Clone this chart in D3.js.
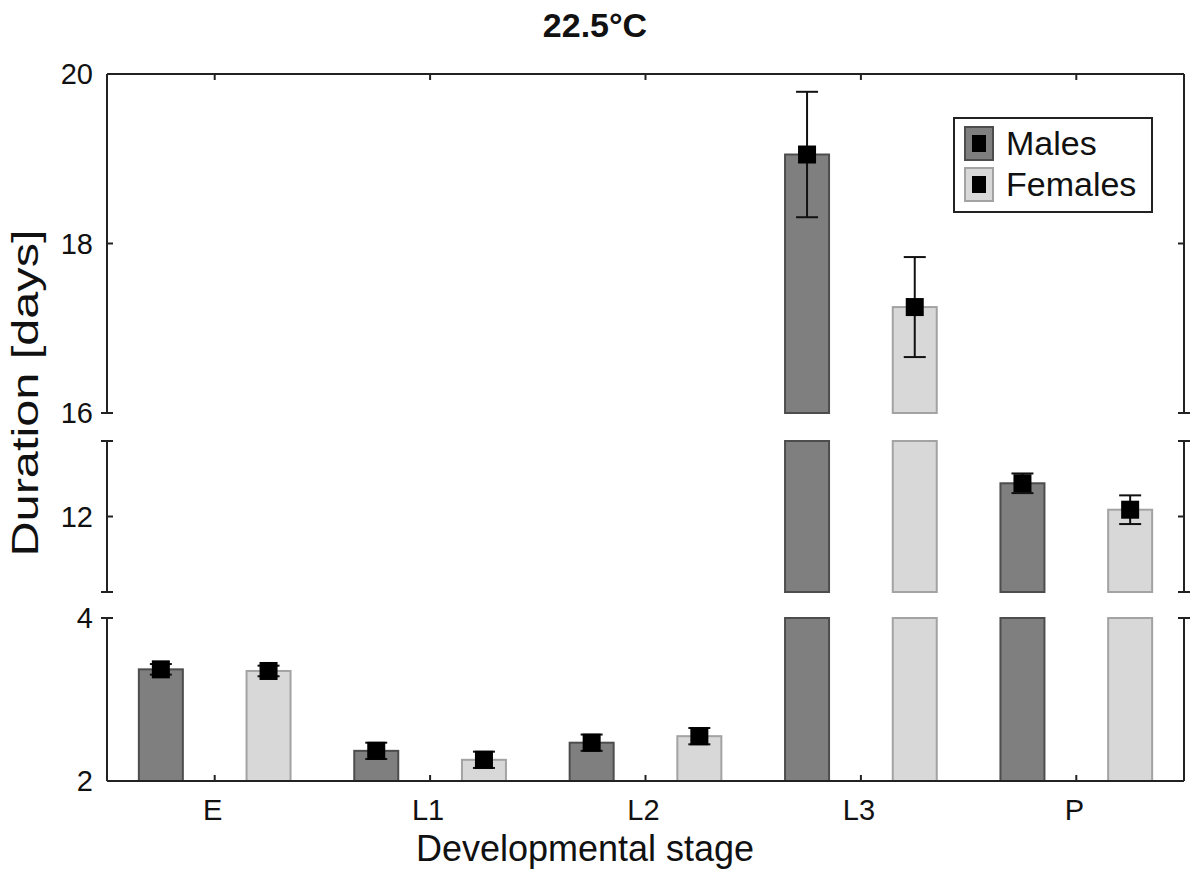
<!DOCTYPE html>
<html>
<head>
<meta charset="utf-8">
<script src="https://cdn.jsdelivr.net/npm/d3@7"></script>
<style>
body { margin: 0; background: #fff; }
text { font-family: "Liberation Sans", Arial, sans-serif; fill: #111; }
</style>
</head>
<body>
<script>
// data
var stages = ["E", "L1", "L2", "L3", "P"];
var series = ["Males", "Females"];
var maleMean = [3.37, 2.37, 2.47, 19.05, 12.44];
var maleErr = [0.065, 0.10, 0.10, 0.74, 0.13];
var femaleMean = [3.35, 2.26, 2.55, 17.25, 12.09];
var femaleErr = [0.065, 0.10, 0.10, 0.59, 0.19];
// broken y axis: three pieces, bottom to top
var segDomains = [[2, 4], [11, 13], [16, 20]];
var segTicks = [[2, 4], [12], [16, 18, 20]];

var width = 1192, height = 888;
var plotLeft = 107, plotRight = 1184, plotTop = 74, plotBottom = 781;
// pixel ranges of the pieces (bottom, top)
var segRanges = [[781, 618], [592, 441], [413, 74]];

var fills = {Males: "#7f7f7f", Females: "#d8d8d8"};
var strokes = {Males: "#4d4d4d", Females: "#a3a3a3"};

var svg = d3.select("body").append("svg")
    .attr("width", width)
    .attr("height", height);

var x0 = d3.scaleBand().domain(stages).range([plotLeft, plotRight]);
var x1 = d3.scaleBand().domain(series).range([0, x0.bandwidth()]);
var barW = 44;

var segs = segDomains.map(function(d, i) {
  return {lo: d[0], hi: d[1], y: d3.scaleLinear().domain(d).range(segRanges[i]), ticks: segTicks[i]};
});

var rows = [];
stages.forEach(function(s, i) {
  rows.push({stage: s, key: "Males", mean: maleMean[i], err: maleErr[i]});
  rows.push({stage: s, key: "Females", mean: femaleMean[i], err: femaleErr[i]});
});

function cx(d) { return x0(d.stage) + x1(d.key) + x1.bandwidth() / 2; }

// bars, cut into the pieces of the axis
segs.forEach(function(seg) {
  var pieces = rows.filter(function(d) { return d.mean > seg.lo; });
  svg.append("g").selectAll("rect")
    .data(pieces)
    .enter()
    .append("rect")
    .attr("x", function(d) { return cx(d) - barW / 2; })
    .attr("y", function(d) { return seg.y(Math.min(d.mean, seg.hi)); })
    .attr("width", barW)
    .attr("height", function(d) { return seg.y(seg.lo) - seg.y(Math.min(d.mean, seg.hi)); })
    .attr("fill", function(d) { return fills[d.key]; })
    .attr("stroke", function(d) { return strokes[d.key]; })
    .attr("stroke-width", 2);
});

// error bars and mean markers
segs.forEach(function(seg) {
  var inSeg = rows.filter(function(d) { return d.mean >= seg.lo && d.mean <= seg.hi; });
  var g = svg.append("g").attr("stroke", "#111").attr("stroke-width", 2);
  inSeg.forEach(function(d) {
    var c = cx(d), yt = seg.y(d.mean + d.err), yb = seg.y(d.mean - d.err);
    g.append("line").attr("x1", c).attr("x2", c).attr("y1", yt).attr("y2", yb);
    g.append("line").attr("x1", c - 11).attr("x2", c + 11).attr("y1", yt).attr("y2", yt);
    g.append("line").attr("x1", c - 11).attr("x2", c + 11).attr("y1", yb).attr("y2", yb);
  });
  svg.append("g").selectAll("rect")
    .data(inSeg)
    .enter()
    .append("rect")
    .attr("x", function(d) { return cx(d) - 9; })
    .attr("y", function(d) { return seg.y(d.mean) - 9; })
    .attr("width", 18)
    .attr("height", 18)
    .attr("fill", "#000");
});

// frame: top and bottom lines with inward ticks at category centers
var frame = svg.append("g").attr("stroke", "#222").attr("stroke-width", 2);
frame.append("line").attr("x1", plotLeft).attr("x2", plotRight).attr("y1", plotTop).attr("y2", plotTop);
frame.append("line").attr("x1", plotLeft).attr("x2", plotRight).attr("y1", plotBottom).attr("y2", plotBottom);
stages.forEach(function(s) {
  var c = x0(s) + x0.bandwidth() / 2;
  frame.append("line").attr("x1", c).attr("x2", c).attr("y1", plotTop).attr("y2", plotTop + 6);
  frame.append("line").attr("x1", c).attr("x2", c).attr("y1", plotBottom).attr("y2", plotBottom - 6);
});

// left and right axis pieces with caps at the breaks
segs.forEach(function(seg, i) {
  var ya = seg.y(seg.lo), yb = seg.y(seg.hi);
  [plotLeft, plotRight].forEach(function(xa) {
    var inward = xa === plotLeft ? 1 : -1;
    frame.append("line").attr("x1", xa).attr("x2", xa).attr("y1", ya).attr("y2", yb);
    if (i > 0) frame.append("line").attr("x1", xa - 6).attr("x2", xa + 6).attr("y1", ya).attr("y2", ya);
    if (i < segs.length - 1) frame.append("line").attr("x1", xa - 6).attr("x2", xa + 6).attr("y1", yb).attr("y2", yb);
    seg.ticks.forEach(function(t) {
      if (t === seg.lo || t === seg.hi) return;
      frame.append("line").attr("x1", xa).attr("x2", xa + inward * 6).attr("y1", seg.y(t)).attr("y2", seg.y(t));
    });
  });
  svg.append("g").selectAll("text")
    .data(seg.ticks)
    .enter()
    .append("text")
    .attr("x", plotLeft - 14)
    .attr("y", function(t) { return seg.y(t); })
    .attr("dy", "0.35em")
    .attr("text-anchor", "end")
    .style("font-size", "29px")
    .text(function(t) { return t; });
});

// x tick labels
svg.append("g").selectAll("text")
  .data(stages)
  .enter()
  .append("text")
  .attr("x", function(s) { return x0(s) + x0.bandwidth() / 2 - 2; })
  .attr("y", 820)
  .attr("text-anchor", "middle")
  .style("font-size", "29px")
  .text(function(s) { return s; });

// titles
svg.append("text")
  .attr("x", 595).attr("y", 37)
  .attr("text-anchor", "middle")
  .style("font-size", "34px").style("font-weight", "bold")
  .text("22.5°C");

svg.append("text")
  .attr("x", 585).attr("y", 861)
  .attr("text-anchor", "middle")
  .style("font-size", "36px")
  .text("Developmental stage");

svg.append("text")
  .attr("transform", "translate(38,393) rotate(-90)")
  .attr("text-anchor", "middle")
  .attr("textLength", 327)
  .attr("lengthAdjust", "spacingAndGlyphs")
  .style("font-size", "36px")
  .text("Duration [days]");

// legend
var legend = svg.append("g");
legend.append("rect")
  .attr("x", 954).attr("y", 118).attr("width", 198).attr("height", 94)
  .attr("fill", "#fff").attr("stroke", "#222").attr("stroke-width", 2);
var item = legend.selectAll("g.item")
  .data(series)
  .enter()
  .append("g")
  .attr("class", "item")
  .attr("transform", function(d, i) { return "translate(965," + (127 + i * 41) + ")"; });
item.append("rect")
  .attr("width", 28).attr("height", 33)
  .attr("fill", function(d) { return fills[d]; })
  .attr("stroke", function(d) { return strokes[d]; })
  .attr("stroke-width", 2);
item.append("rect")
  .attr("x", 7).attr("y", 8).attr("width", 14).attr("height", 17)
  .attr("fill", "#000");
item.append("text")
  .attr("x", 41).attr("y", 28)
  .style("font-size", "34px")
  .text(function(d) { return d; });
</script>
</body>
</html>
